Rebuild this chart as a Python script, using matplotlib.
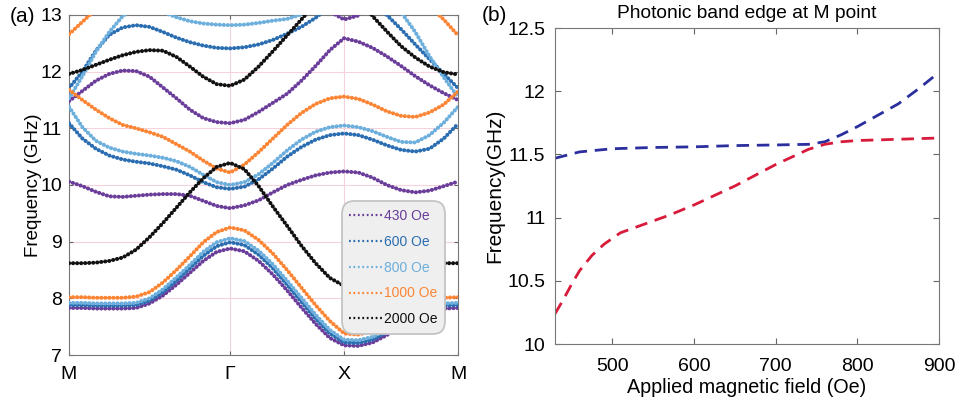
import numpy as np
import matplotlib.pyplot as plt
from matplotlib.lines import Line2D

plt.rcParams['font.family'] = ['Liberation Sans', 'DejaVu Sans']

# ---- band structure, sampled along M - Gamma - X - M ----
G = np.sqrt(2.0)
X = G + 1.0
k = np.concatenate([np.linspace(0, G, 13),
                    G + np.linspace(0, 1, 9)[1:],
                    X + np.linspace(0, 1, 9)[1:]])
k_ticks = [0, G, X, X + 1.0]
k_labels = ['M', '\u0393', 'X', 'M']

# 430 Oe
b430_1 = [7.83, 7.83, 7.82, 7.82, 7.82, 7.83, 7.91, 8.05, 8.24, 8.45, 8.66, 8.82, 8.88,
          8.83, 8.66, 8.42, 8.14, 7.84, 7.55, 7.30, 7.17,
          7.16, 7.22, 7.35, 7.52, 7.68, 7.78, 7.82, 7.83]
b430_2 = [10.06, 9.98, 9.88, 9.80, 9.79, 9.81, 9.83, 9.84, 9.84, 9.81, 9.72, 9.63, 9.59,
          9.64, 9.73, 9.87, 10.00, 10.09, 10.17, 10.22, 10.24,
          10.22, 10.13, 10.00, 9.91, 9.87, 9.90, 9.98, 10.06]
b430_3 = [11.48, 11.66, 11.84, 11.96, 12.02, 12.01, 11.91, 11.72, 11.53, 11.33, 11.18, 11.11, 11.09,
          11.15, 11.29, 11.45, 11.61, 11.84, 12.10, 12.38, 12.59,
          12.53, 12.42, 12.27, 12.10, 11.92, 11.76, 11.62, 11.50]
b430_4 = [14.0, 14.0, 14.0, 14.0, 14.0, 14.0, 14.0, 14.0, 14.0, 14.0, 14.0, 14.0, 14.0,
          14.0, 14.0, 14.0, 14.0, 13.60, 13.30, 13.06, 12.92,
          12.99, 13.25, 13.60, 14.0, 14.0, 14.0, 14.0, 14.0]

# 600 Oe
b600_1 = [7.88, 7.88, 7.87, 7.87, 7.87, 7.88, 7.96, 8.11, 8.31, 8.53, 8.75, 8.92, 8.99,
          8.94, 8.77, 8.53, 8.24, 7.94, 7.64, 7.38, 7.22,
          7.21, 7.27, 7.40, 7.57, 7.73, 7.83, 7.87, 7.88]
b600_2 = [11.09, 10.82, 10.64, 10.52, 10.45, 10.41, 10.38, 10.33, 10.27, 10.17, 10.05, 9.96, 9.93,
          9.97, 10.10, 10.29, 10.50, 10.67, 10.80, 10.88, 10.91,
          10.88, 10.80, 10.70, 10.62, 10.59, 10.64, 10.82, 11.08]
b600_3 = [11.71, 12.00, 12.37, 12.65, 12.78, 12.82, 12.79, 12.70, 12.60, 12.52, 12.46, 12.42, 12.41,
          12.43, 12.48, 12.56, 12.67, 12.79, 12.95, 13.15, 13.30,
          13.35, 13.15, 13.00, 12.75, 12.48, 12.22, 11.96, 11.71]

# 800 Oe
b800_1 = [7.92, 7.92, 7.91, 7.91, 7.91, 7.92, 8.00, 8.16, 8.37, 8.59, 8.82, 8.99, 9.06,
          9.01, 8.84, 8.60, 8.31, 8.01, 7.71, 7.44, 7.27,
          7.26, 7.32, 7.45, 7.62, 7.77, 7.87, 7.91, 7.92]
b800_2 = [11.38, 11.02, 10.78, 10.66, 10.59, 10.55, 10.52, 10.48, 10.42, 10.32, 10.18, 10.05, 10.00,
          10.05, 10.19, 10.39, 10.61, 10.80, 10.94, 11.02, 11.05,
          11.02, 10.95, 10.85, 10.76, 10.75, 10.88, 11.10, 11.38]
b800_3 = [11.53, 11.92, 12.35, 12.70, 12.98, 13.15, 13.15, 13.05, 12.96, 12.89, 12.85, 12.83, 12.82,
          12.83, 12.86, 12.90, 12.93, 13.01, 13.20, 13.40, 13.50,
          13.45, 13.30, 13.15, 13.05, 12.70, 12.27, 11.90, 11.55]

# 1000 Oe
b1000_1 = [8.02, 8.02, 8.01, 8.01, 8.01, 8.03, 8.11, 8.28, 8.50, 8.74, 8.99, 9.17, 9.25,
           9.20, 9.03, 8.79, 8.50, 8.19, 7.88, 7.60, 7.38,
           7.36, 7.42, 7.55, 7.72, 7.87, 7.97, 8.01, 8.02]
b1000_2 = [11.68, 11.50, 11.33, 11.18, 11.06, 11.00, 10.93, 10.85, 10.72, 10.59, 10.43, 10.29, 10.22,
           10.36, 10.58, 10.82, 11.06, 11.27, 11.43, 11.53, 11.56,
           11.52, 11.42, 11.30, 11.22, 11.20, 11.28, 11.42, 11.65]
b1000_3 = [12.66, 12.88, 13.10, 13.40, 14.0, 14.0, 14.0, 14.0, 14.0, 14.0, 14.0, 14.0, 14.0,
           14.0, 14.0, 14.0, 14.0, 14.0, 14.0, 14.0, 14.0,
           14.0, 14.0, 14.0, 14.0, 13.40, 13.15, 12.92, 12.64]

# 2000 Oe
b2000_1 = [8.62, 8.62, 8.63, 8.66, 8.72, 8.86, 9.08, 9.33, 9.60, 9.87, 10.12, 10.32, 10.39,
           10.28, 9.98, 9.62, 9.28, 8.93, 8.62, 8.36, 8.22,
           8.20, 8.28, 8.40, 8.52, 8.59, 8.62, 8.62, 8.62]
b2000_2 = [11.96, 12.03, 12.12, 12.21, 12.29, 12.35, 12.38, 12.37, 12.26, 12.09, 11.91, 11.78, 11.75,
           11.86, 12.09, 12.36, 12.64, 12.92, 13.20, 13.45, 13.60,
           13.30, 12.98, 12.71, 12.45, 12.25, 12.09, 11.99, 11.95]

fields = ['430 Oe', '600 Oe', '800 Oe', '1000 Oe', '2000 Oe']
colors = ['#6a3d9a', '#2a6db0', '#6caedc', '#fb8534', '#111111']
bands = [[b430_1, b430_2, b430_3, b430_4],
         [b600_1, b600_2, b600_3],
         [b800_1, b800_2, b800_3],
         [b1000_1, b1000_2, b1000_3],
         [b2000_1, b2000_2]]

# ---- band edge at M vs applied field ----
h_upper = [430, 460, 500, 550, 600, 650, 700, 740, 760, 780, 800, 825, 850, 875, 900]
f_upper = [11.47, 11.52, 11.545, 11.555, 11.56, 11.57, 11.575, 11.58, 11.60, 11.655, 11.72,
           11.81, 11.90, 12.02, 12.15]
h_lower = [430, 440, 450, 460, 475, 490, 510, 540, 570, 600, 650, 700, 740, 760, 780, 800, 850, 900]
f_lower = [10.24, 10.35, 10.47, 10.58, 10.70, 10.79, 10.88, 10.95, 11.02, 11.10, 11.25, 11.42,
           11.54, 11.58, 11.60, 11.61, 11.62, 11.63]

fig = plt.figure(figsize=(9.57, 4.03), dpi=100)
ax1 = fig.add_axes([0.0721, 0.1191, 0.4065, 0.8437])
ax2 = fig.add_axes([0.580, 0.1464, 0.4013, 0.784])

for col, group in zip(colors, bands):
    for b in group:
        ax1.plot(k, b, color=col, lw=2.9, linestyle=(0, (0.05, 0.95)),
                 dash_capstyle='round', zorder=3)

ax1.set_xlim(0, X + 1.0)
ax1.set_ylim(7, 13)
ax1.set_xticks(k_ticks)
ax1.set_xticklabels(k_labels)
ax1.set_yticks(range(7, 14))
ax1.grid(True, color='#f4d3dd', lw=0.8)
ax1.set_axisbelow(True)
ax1.tick_params(direction='in', top=True, right=True, labelsize=14, length=3,
                color='#666666', pad=5)
ax1.tick_params(axis='x', pad=8)
for s in ax1.spines.values():
    s.set_color('#777777')
ax1.set_ylabel('Frequency (GHz)', fontsize=13.5, labelpad=-1)

handles = [Line2D([], [], color=c, lw=1.6, linestyle=(0, (0.8, 1.2)))
           for c in colors]
leg = ax1.legend(handles, fields, loc='lower left', bbox_to_anchor=(0.69, 0.05),
                 fontsize=10, handlelength=2.4, handletextpad=0.1, labelspacing=0.85,
                 borderpad=0.35, fancybox=True, framealpha=1, shadow=False)
leg.get_frame().set_facecolor('#efefef')
leg.get_frame().set_edgecolor('#c4c4c4')
leg.get_frame().set_linewidth(1.3)
leg.get_frame().set_boxstyle('round', pad=0.2, rounding_size=0.9)
for t, c in zip(leg.get_texts(), colors):
    t.set_color(c)

ax2.plot(h_upper, f_upper, color='#2b2f9e', lw=2.0, linestyle=(0, (4.5, 2.8)))
ax2.plot(h_lower, f_lower, color='#d81b3a', lw=2.0, linestyle=(0, (4.5, 2.8)))
ax2.set_xlim(430, 900)
ax2.set_ylim(10, 12.5)
ax2.set_xticks([500, 600, 700, 800, 900])
ax2.set_yticks([10, 10.5, 11, 11.5, 12, 12.5])
ax2.set_yticklabels(['10', '10.5', '11', '11.5', '12', '12.5'])
ax2.tick_params(direction='in', top=True, right=True, labelsize=14, length=4,
                color='#666666', pad=7)
ax2.tick_params(axis='x', pad=10)
for s in ax2.spines.values():
    s.set_color('#777777')
ax2.set_xlabel('Applied magnetic field (Oe)', fontsize=14.2, labelpad=2)
ax2.set_ylabel('Frequency(GHz)', fontsize=15, labelpad=2)
ax2.set_title('Photonic band edge at M point', fontsize=13.8, pad=7)

fig.text(0.010, 0.960, '(a)', fontsize=15, va='center')
fig.text(0.503, 0.962, '(b)', fontsize=15, va='center')

fig.savefig('out.png', dpi=100)
